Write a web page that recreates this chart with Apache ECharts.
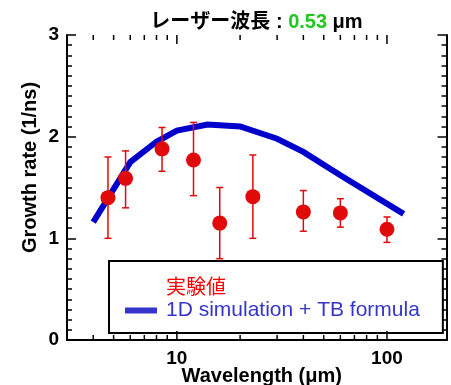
<!DOCTYPE html>
<html><head><meta charset="utf-8">
<script src="https://cdn.jsdelivr.net/npm/echarts@6/dist/echarts.min.js"></script>
<style>html,body{margin:0;padding:0;background:#fff}#c{width:451px;height:385px}</style>
</head><body><div id="c"></div>
<script>
// ---- data ----
const titleMain = 'レーザー波長 : ';
const titleValue = '0.53';
const titleUnit = ' μm';
const xName = 'Wavelength (μm)';
const yName = 'Growth rate (1/ns)';
const expName = '実験値';
const simName = '1D simulation + TB formula';
const expWavelength = [4.7, 5.7, 8.5, 12, 16, 23, 40, 60, 100];
const expRate = [1.40, 1.59, 1.88, 1.77, 1.15, 1.41, 1.26, 1.25, 1.09];
const expLow  = [1.00, 1.30, 1.66, 1.42, 0.80, 1.00, 1.07, 1.11, 0.96];
const expHigh = [1.80, 1.86, 2.09, 2.14, 1.50, 1.82, 1.47, 1.39, 1.21];
const simWavelength = [4, 6, 8, 10, 14, 20, 30, 40, 60, 120];
const simRate = [1.16, 1.75, 1.95, 2.06, 2.12, 2.10, 1.98, 1.85, 1.62, 1.24];
const xMajorTicks = [10, 100];
const xMinorTicks = [4, 5, 6, 7, 8, 9, 20, 30, 40, 50, 60, 70, 80, 90];
const xTickLabels = ['10', '100'];
const yTickLabels = ['0', '1', '2', '3'];

// ---- styles ----
const FONT = "'Liberation Sans', 'Noto Sans CJK JP', sans-serif";
const RED = '#e00a0a';
const BLUE = '#0000cc';
const LEG_BLUE = '#3535cc';
const X_MIN = 3, X_MAX = 192, Y_MIN = 0, Y_MAX = 3;

const chart = echarts.init(document.getElementById('c'), null, {renderer: 'canvas'});

const tickData = xMinorTicks.map(v => [v, 0, 0]).concat(xMajorTicks.map(v => [v, 0, 1]));
const errData = expWavelength.map((x, i) => [x, expLow[i], expHigh[i]]);

function isLabelled(v) {
  for (let i = 0; i < xMajorTicks.length; i++) {
    if (Math.abs(v - xMajorTicks[i]) / xMajorTicks[i] < 1e-6) return xTickLabels[i];
  }
  return '';
}

const yAxisBase = {
  type: 'value', min: Y_MIN, max: Y_MAX, interval: 1,
  axisLine: {show: true, lineStyle: {color: '#000', width: 2}},
  axisTick: {show: true, inside: true, length: 9, lineStyle: {color: '#000', width: 1.5}},
  minorTick: {show: true, splitNumber: 10, length: 5, lineStyle: {color: '#000', width: 1.5}},
  splitLine: {show: false}
};

const option = {
  animation: false,
  backgroundColor: '#fff',
  title: {
    text: '{a|' + titleMain + '}{b|' + titleValue + '}{a|' + titleUnit + '}',
    left: 256.5, textAlign: 'center', top: 12, padding: 0,
    textStyle: {
      rich: {
        a: {fontFamily: FONT, fontWeight: 'bold', fontSize: 20, color: '#000', lineHeight: 21},
        b: {fontFamily: FONT, fontWeight: 'bold', fontSize: 20, color: '#1ec81e', lineHeight: 21}
      }
    }
  },
  grid: {left: 67, right: 4.5, top: 35, bottom: 45, outerBoundsMode: 'none', containLabel: false},
  legend: {
    orient: 'vertical', left: 109, top: 261,
    padding: [17, 23, 12, 16], itemGap: 2, itemWidth: 32, itemHeight: 6,
    backgroundColor: '#fff', borderColor: '#000', borderWidth: 2, borderRadius: 0,
    selectedMode: false,
    textStyle: {fontSize: 20, fontFamily: FONT},
    data: [
      {name: expName, icon: 'none', textStyle: {color: '#ff0000', fontSize: 20, fontFamily: FONT, padding: [0, 0, 0, 4]}},
      {name: simName, icon: 'rect', itemStyle: {color: LEG_BLUE}, lineStyle: {width: 0}, textStyle: {color: LEG_BLUE, fontSize: 21, fontFamily: FONT, padding: [0, 0, 0, 4]}}
    ]
  },
  xAxis: [
    {
      type: 'log', logBase: 10, min: X_MIN, max: X_MAX,
      name: xName, nameLocation: 'middle', nameGap: 26, nameMoveOverlap: false,
      nameTextStyle: {fontFamily: FONT, fontWeight: 'bold', fontSize: 20, color: '#000', padding: [0, 0, 0, 10]},
      axisLine: {show: true, lineStyle: {color: '#000', width: 2}},
      axisTick: {show: false}, minorTick: {show: false}, splitLine: {show: false},
      axisLabel: {show: true, margin: 9, formatter: v => isLabelled(v), fontFamily: FONT, fontWeight: 'bold', fontSize: 19, color: '#000', showMinLabel: false, showMaxLabel: false}
    },
    {
      type: 'log', logBase: 10, min: X_MIN, max: X_MAX, position: 'top',
      axisLine: {show: true, lineStyle: {color: '#000', width: 2}},
      axisTick: {show: false}, minorTick: {show: false}, splitLine: {show: false},
      axisLabel: {show: false}
    }
  ],
  yAxis: [
    Object.assign({}, yAxisBase, {
      position: 'left',
      name: yName, nameLocation: 'middle', nameRotate: 90, nameGap: 27, nameMoveOverlap: false,
      nameTextStyle: {fontFamily: FONT, fontWeight: 'bold', fontSize: 20, color: '#000', padding: [0, 0, 0, 40]},
      axisLabel: {show: true, margin: 8, formatter: v => yTickLabels[Math.round(v)] || '', fontFamily: FONT, fontWeight: 'bold', fontSize: 19, color: '#000'}
    }),
    Object.assign({}, yAxisBase, {position: 'right', axisLabel: {show: false}})
  ],
  series: [
    {
      type: 'line', name: simName, xAxisIndex: 0, yAxisIndex: 0,
      data: simWavelength.map((x, i) => [x, simRate[i]]),
      showSymbol: false, symbol: 'none',
      lineStyle: {color: BLUE, width: 6, cap: 'butt', join: 'miter'},
      itemStyle: {color: LEG_BLUE},
      z: 2
    },
    {
      type: 'custom', name: 'errorbars', xAxisIndex: 0, yAxisIndex: 0,
      data: errData, encode: {x: 0, y: [1, 2]}, silent: true, z: 3,
      renderItem: function (params, api) {
        const x = api.value(0), lo = api.value(1), hi = api.value(2);
        const a = api.coord([x, lo]), b = api.coord([x, hi]);
        const w = 3.5;
        const st = {stroke: RED, lineWidth: 1.5};
        return {type: 'group', children: [
          {type: 'line', shape: {x1: a[0], y1: a[1], x2: b[0], y2: b[1]}, style: st},
          {type: 'line', shape: {x1: a[0] - w, y1: a[1], x2: a[0] + w, y2: a[1]}, style: st},
          {type: 'line', shape: {x1: b[0] - w, y1: b[1], x2: b[0] + w, y2: b[1]}, style: st}
        ]};
      }
    },
    {
      type: 'scatter', name: expName, xAxisIndex: 0, yAxisIndex: 0,
      data: expWavelength.map((x, i) => [x, expRate[i]]),
      symbol: 'circle', symbolSize: 15,
      itemStyle: {color: RED, opacity: 1}, z: 4
    },
    {
      type: 'custom', name: 'xticks', xAxisIndex: 0, yAxisIndex: 0,
      data: tickData, encode: {x: 0, y: 1}, silent: true, clip: false, z: 5,
      renderItem: function (params, api) {
        const v = api.value(0), major = api.value(2);
        const pb = api.coord([v, Y_MIN]), pt = api.coord([v, Y_MAX]);
        const len = major ? 9 : 5;
        const st = {stroke: '#000', lineWidth: 1.5};
        return {type: 'group', children: [
          {type: 'line', shape: {x1: pb[0], y1: pb[1], x2: pb[0], y2: pb[1] - len}, style: st},
          {type: 'line', shape: {x1: pt[0], y1: pt[1], x2: pt[0], y2: pt[1] + len}, style: st}
        ]};
      }
    }
  ]
};
chart.setOption(option);
</script>
</body></html>
